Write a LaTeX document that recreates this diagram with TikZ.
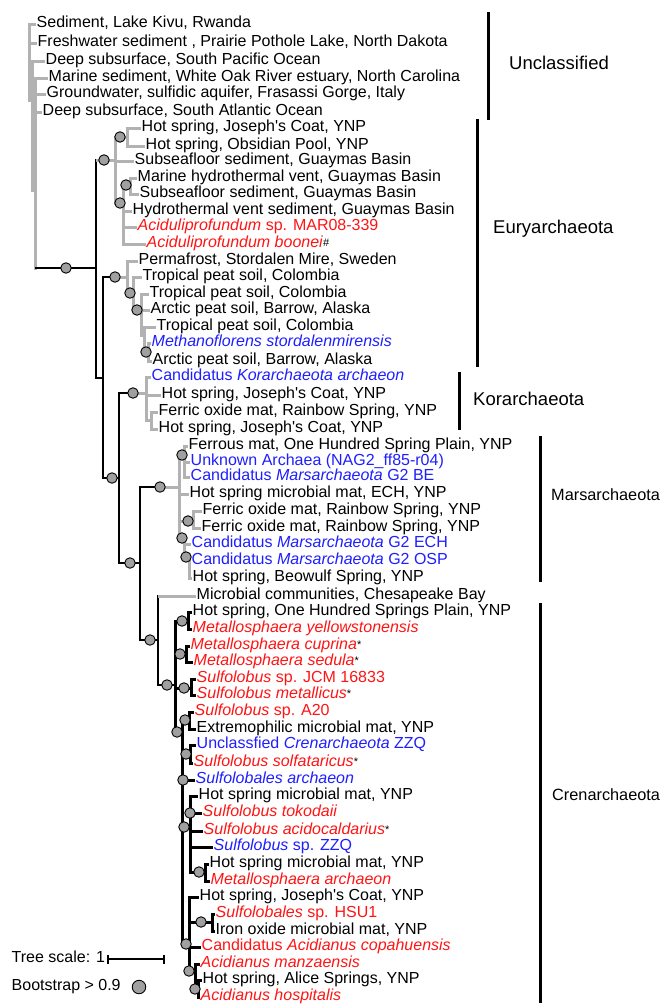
\documentclass[tikz,border=0pt]{standalone}
\usepackage{fontspec}
\setmainfont{Liberation Sans}
\definecolor{trgray}{RGB}{178,178,178}
\definecolor{bsfill}{RGB}{160,160,160}
\definecolor{rd}{RGB}{255,20,20}
\definecolor{bl}{RGB}{30,30,255}
\newcommand\ap{\textquotesingle}
\newcommand\sx[1]{{\color{black}\raisebox{1.5pt}{\fontsize{11}{11}\selectfont #1}}}
\newcommand\leafnode[4]{\node[lf] (#1) at (#2,#3) {#4};}
\begin{document}
\begin{tikzpicture}[x=1pt,y=-1pt,
 lf/.style={anchor=west,inner xsep=0.5pt,inner ysep=0pt,text height=0.9em,text depth=0.184em,font=\fontsize{16}{16}\selectfont},
 gr/.style={draw=trgray,line width=3pt},
 bk/.style={draw=black,line width=2.5pt},
 ck/.style={draw=black,line width=3pt},
 vt/.style={line cap=rect},
 bs/.style={circle,draw=black,line width=0.9pt,fill=bsfill,minimum size=10.5pt,inner sep=0pt},
 grpA/.style={anchor=west,inner sep=0pt,text height=0.9em,text depth=0.184em,font=\fontsize{18.5}{18.5}\selectfont},
 grpB/.style={anchor=west,inner sep=0pt,text height=0.9em,text depth=0.184em,font=\fontsize{16.3}{16.3}\selectfont},
 bar/.style={draw=black,line width=3pt}]
\useasboundingbox (0,0) rectangle (663,1007);
% ---------- leaves ----------
\leafnode{l1}{36}{24}{Sediment, Lake Kivu, Rwanda}
\leafnode{l2}{37}{43}{Freshwater sediment , Prairie Pothole Lake, North Dakota}
\leafnode{l3}{45}{61}{Deep subsurface, South Pacific Ocean}
\leafnode{l4}{48}{78}{Marine sediment, White Oak River estuary, North Carolina}
\leafnode{l5}{46}{94}{Groundwater, sulfidic aquifer, Frasassi Gorge, Italy}
\leafnode{l6}{42}{112}{Deep subsurface, South Atlantic Ocean}
\leafnode{l7}{141}{128}{Hot spring, Joseph\ap s Coat, YNP}
\leafnode{l8}{145}{146}{Hot spring, Obsidian Pool, YNP}
\leafnode{l9}{134}{161}{Subseafloor sediment, Guaymas Basin}
\leafnode{l10}{137}{178}{Marine hydrothermal vent, Guaymas Basin}
\leafnode{l11}{139}{194}{Subseafloor sediment, Guaymas Basin}
\leafnode{l12}{132}{211}{Hydrothermal vent sediment, Guaymas Basin}
\leafnode{l13}{137}{227}{\color{rd}\textit{Aciduliprofundum} sp. MAR08-339}
\leafnode{l14}{146}{244}{\color{rd}\textit{Aciduliprofundum boonei}\sx{\#}}
\leafnode{l15}{138}{261}{Permafrost, Stordalen Mire, Sweden}
\leafnode{l16}{142}{277}{Tropical peat soil, Colombia}
\leafnode{l17}{149}{294}{Tropical peat soil, Colombia}
\leafnode{l18}{150}{310}{Arctic peat soil, Barrow, Alaska}
\leafnode{l19}{156}{327}{Tropical peat soil, Colombia}
\leafnode{l20}{151}{343}{\color{bl}\textit{Methanoflorens stordalenmirensis}}
\leafnode{l21}{152}{361}{Arctic peat soil, Barrow, Alaska}
\leafnode{l22}{151}{377}{\color{bl}Candidatus \textit{Korarchaeota archaeon}}
\leafnode{l23}{161}{395}{Hot spring, Joseph\ap s Coat, YNP}
\leafnode{l24}{158}{412}{Ferric oxide mat, Rainbow Spring, YNP}
\leafnode{l25}{158}{429}{Hot spring, Joseph\ap s Coat, YNP}
\leafnode{l26}{188}{446}{Ferrous mat, One Hundred Spring Plain, YNP}
\leafnode{l27}{190}{462}{\color{bl}Unknown Archaea (NAG2\_ff85-r04)}
\leafnode{l28}{190}{477}{\color{bl}Candidatus \textit{Marsarchaeota} G2 BE}
\leafnode{l29}{189}{494}{Hot spring microbial mat, ECH, YNP}
\leafnode{l30}{202}{511}{Ferric oxide mat, Rainbow Spring, YNP}
\leafnode{l31}{201}{528}{Ferric oxide mat, Rainbow Spring, YNP}
\leafnode{l32}{191}{544}{\color{bl}Candidatus \textit{Marsarchaeota} G2 ECH}
\leafnode{l33}{191}{561}{\color{bl}Candidatus \textit{Marsarchaeota} G2 OSP}
\leafnode{l34}{192}{578}{Hot spring, Beowulf Spring, YNP}
\leafnode{l35}{196}{596}{Microbial communities, Chesapeake Bay}
\leafnode{l36}{192}{612}{Hot spring, One Hundred Springs Plain, YNP}
\leafnode{l37}{192}{629}{\color{rd}\textit{Metallosphaera yellowstonensis}}
\leafnode{l38}{190}{646}{\color{rd}\textit{Metallosphaera cuprina}\sx{*}}
\leafnode{l39}{193}{662}{\color{rd}\textit{Metallosphaera sedula}\sx{*}}
\leafnode{l40}{196}{679}{\color{rd}\textit{Sulfolobus} sp. JCM 16833}
\leafnode{l41}{196}{695}{\color{rd}\textit{Sulfolobus metallicus}\sx{*}}
\leafnode{l42}{194}{712}{\color{rd}\textit{Sulfolobus} sp. A20}
\leafnode{l43}{196}{729}{Extremophilic microbial mat, YNP}
\leafnode{l44}{196}{745}{\color{bl}Unclassfied \textit{Crenarchaeota} ZZQ}
\leafnode{l45}{193}{763}{\color{rd}\textit{Sulfolobus solfataricus}\sx{*}}
\leafnode{l46}{195}{780}{\color{bl}\textit{Sulfolobales archaeon}}
\leafnode{l47}{198}{796}{Hot spring microbial mat, YNP}
\leafnode{l48}{202}{813}{\color{rd}\textit{Sulfolobus tokodaii}}
\leafnode{l49}{203}{831}{\color{rd}\textit{Sulfolobus acidocaldarius}\sx{*}}
\leafnode{l50}{213}{847}{\color{bl}\textit{Sulfolobus} sp. ZZQ}
\leafnode{l51}{209}{864}{Hot spring microbial mat, YNP}
\leafnode{l52}{210}{881}{\color{rd}\textit{Metallosphaera archaeon}}
\leafnode{l53}{199}{897}{Hot spring, Joseph\ap s Coat, YNP}
\leafnode{l54}{215}{914}{\color{rd}\textit{Sulfolobales} sp. HSU1}
\leafnode{l55}{215}{931}{Iron oxide microbial mat, YNP}
\leafnode{l56}{201}{947}{\color{rd}Candidatus \textit{Acidianus copahuensis}}
\leafnode{l57}{200}{964}{\color{rd}\textit{Acidianus manzaensis}}
\leafnode{l58}{202}{980}{Hot spring, Alice Springs, YNP}
\leafnode{l59}{200}{997}{\color{rd}\textit{Acidianus hospitalis}}
% ---------- unclassified (gray) ----------
\draw[gr,vt] (29,24)--(29,100);
\draw[gr,vt] (32,61)--(32,190);
\draw[gr,vt] (35,78)--(35,268);
\draw[gr] (29,24)--(l1.west);
\draw[gr] (29,43)--(l2.west);
\draw[gr] (32,61)--(l3.west);
\draw[gr] (32,112)--(l6.west);
\draw[gr] (35,78)--(l4.west);
\draw[gr] (35,94)--(l5.west);
% ---------- backbone ----------
\draw[bk] (35,268)--(96,268);
\draw[bk,vt] (96,160)--(96,378);
\draw[bk] (96,378)--(103,378);
\draw[bk,vt] (103,277)--(103,478);
\draw[bk] (103,478)--(119,478);
\draw[bk,vt] (119,393)--(119,563);
\draw[bk] (119,563)--(140,563);
\draw[bk,vt] (140,487)--(140,640);
\draw[bk] (140,640)--(158,640);
\draw[bk,vt] (158,596)--(158,685);
\draw[bk] (158,685)--(175,685);
% ---------- Euryarchaeota group A ----------
\draw[gr] (96,160)--(115,160);
\draw[gr,vt] (115,137)--(115,203);
\draw[gr] (115,137)--(127,137);
\draw[gr,vt] (127,128)--(127,146);
\draw[gr] (127,128)--(l7.west);
\draw[gr] (127,146)--(l8.west);
\draw[gr] (115,161)--(l9.west);
\draw[gr] (115,203)--(123,203);
\draw[gr,vt] (123,185)--(123,244);
\draw[gr] (123,185)--(130,185);
\draw[gr,vt] (130,178)--(130,194);
\draw[gr] (130,178)--(l10.west);
\draw[gr] (130,194)--(l11.west);
\draw[gr] (123,211)--(l12.west);
\draw[gr] (123,227)--(l13.west);
\draw[gr] (123,244)--(l14.west);
% ---------- Euryarchaeota group B ----------
\draw[bk] (103,277)--(115,277);
\draw[gr] (115,277)--(127,277);
\draw[gr,vt] (127,261)--(127,293);
\draw[gr] (127,261)--(l15.west);
\draw[gr] (127,293)--(133,293);
\draw[gr,vt] (133,277)--(133,310);
\draw[gr] (133,277)--(l16.west);
\draw[gr] (133,310)--(141,310);
\draw[gr,vt] (141,294)--(141,335);
\draw[gr] (141,294)--(l17.west);
\draw[gr] (141,310)--(l18.west);
\draw[gr] (141,335)--(144,335);
\draw[gr,vt] (144,327)--(144,352);
\draw[gr] (144,327)--(l19.west);
\draw[gr] (144,352)--(148,352);
\draw[gr,vt] (148,343)--(148,361);
\draw[gr] (148,343)--(l20.west);
\draw[gr] (148,361)--(l21.west);
% ---------- Korarchaeota ----------
\draw[bk] (119,393)--(133,393);
\draw[gr] (133,393)--(146,393);
\draw[gr,vt] (146,377)--(146,420);
\draw[gr] (146,377)--(l22.west);
\draw[gr] (146,395)--(l23.west);
\draw[gr] (146,420)--(151,420);
\draw[gr,vt] (151,412)--(151,429);
\draw[gr] (151,412)--(l24.west);
\draw[gr] (151,429)--(l25.west);
% ---------- Marsarchaeota ----------
\draw[bk] (140,487)--(160,487);
\draw[gr] (160,487)--(179,487);
\draw[gr,vt] (179,455)--(179,538);
\draw[gr] (179,455)--(184,455);
\draw[gr,vt] (184,446)--(184,477);
\draw[gr] (184,446)--(l26.west);
\draw[gr] (184,462)--(l27.west);
\draw[gr] (184,477)--(l28.west);
\draw[gr] (179,494)--(l29.west);
\draw[gr] (179,521)--(193,521);
\draw[gr,vt] (193,511)--(193,528);
\draw[gr] (193,511)--(l30.west);
\draw[gr] (193,528)--(l31.west);
\draw[gr] (179,538)--(184,538);
\draw[gr,vt] (184,538)--(184,557);
\draw[gr] (184,544)--(l32.west);
\draw[gr] (184,557)--(189,557);
\draw[gr,vt] (189,557)--(189,578);
\draw[gr] (189,561)--(l33.west);
\draw[gr] (189,578)--(l34.west);
% ---------- Chesapeake ----------
\draw[gr] (158,596)--(l35.west);
% ---------- Crenarchaeota ----------
\draw[ck,vt] (175,621)--(175,732);
\draw[ck] (175,621)--(188,621);
\draw[ck,vt] (188,612)--(188,629);
\draw[ck] (188,612)--(l36.west);
\draw[ck] (188,629)--(l37.west);
\draw[ck] (175,654)--(186,654);
\draw[ck,vt] (186,646)--(186,662);
\draw[ck] (186,646)--(l38.west);
\draw[ck] (186,662)--(l39.west);
\draw[ck] (175,688)--(191,688);
\draw[ck,vt] (191,679)--(191,695);
\draw[ck] (191,679)--(l40.west);
\draw[ck] (191,695)--(l41.west);
\draw[ck] (175,732)--(182,732);
\draw[ck,vt] (182,720)--(182,944);
\draw[ck] (182,720)--(189,720);
\draw[ck,vt] (189,712)--(189,729);
\draw[ck] (189,712)--(l42.west);
\draw[ck] (189,729)--(l43.west);
\draw[ck] (182,754)--(190,754);
\draw[ck,vt] (190,745)--(190,763);
\draw[ck] (190,745)--(l44.west);
\draw[ck] (190,763)--(l45.west);
\draw[ck] (182,780)--(l46.west);
\draw[ck] (182,827)--(190,827);
\draw[ck,vt] (190,796)--(190,872);
\draw[ck] (190,796)--(l47.west);
\draw[ck] (190,813)--(l48.west);
\draw[ck] (190,831)--(l49.west);
\draw[ck] (190,847)--(l50.west);
\draw[ck] (190,872)--(205,872);
\draw[ck,vt] (205,864)--(205,881);
\draw[ck] (205,864)--(l51.west);
\draw[ck] (205,881)--(l52.west);
\draw[ck] (182,944)--(189,944);
\draw[ck,vt] (189,897)--(189,971);
\draw[ck] (189,897)--(l53.west);
\draw[ck] (189,922)--(212,922);
\draw[ck,vt] (212,914)--(212,931);
\draw[ck] (212,914)--(l54.west);
\draw[ck] (212,931)--(l55.west);
\draw[ck] (189,947)--(l56.west);
\draw[ck] (189,971)--(195,971);
\draw[ck,vt] (195,964)--(195,989);
\draw[ck] (195,964)--(l57.west);
\draw[ck] (195,989)--(198,989);
\draw[ck,vt] (198,980)--(198,997);
\draw[ck] (198,980)--(l58.west);
\draw[ck] (198,997)--(l59.west);
% ---------- bootstrap circles ----------
\foreach \cx/\cy [count=\k] in {66/268,104/160,120/137,120/203,126/185,115/277,130/293,137/310,146/352,
  112/478,133/393,130/563,160/487,150/640,182/455,188/521,182/538,186/557,167/685,
  182/621,180/654,184/688,177/732,185/720,186/754,183/780,184/827,190/813,199/872,
  186/944,201/922,189/971,195/989}
  \node[bs] (bs\k) at (\cx,\cy) {};
% ---------- group bars and labels ----------
\draw[bar] (488,12)--(488,120);
\node[grpA] (gU) at (509,66) {Unclassified};
\draw[bar] (477,119)--(477,367);
\node[grpA] (gE) at (493,230) {Euryarchaeota};
\draw[bar] (459,372)--(459,430);
\node[grpA] (gK) at (473,402) {Korarchaeota};
\draw[bar] (540,436)--(540,582);
\node[grpB] (gM) at (551,497) {Marsarchaeota};
\draw[bar] (540,603)--(540,1003);
\node[grpB] (gC) at (552,797) {Crenarchaeota};
% ---------- legend ----------
\node[lf] (ts) at (11,959) {Tree scale: 1};
\coordinate (sb1) at (108,959);
\coordinate (sb2) at (164,959);
\draw[line width=1.5pt] (sb1)--(sb2);
\draw[line width=1.5pt] ([yshift=-4.5pt]sb1)--([yshift=4.5pt]sb1);
\draw[line width=1.5pt] ([yshift=-4.5pt]sb2)--([yshift=4.5pt]sb2);
\node[lf] (bt) at (11,987) {Bootstrap > 0.9};
\node[bs,minimum size=13.5pt] (bsl) at (139,987) {};
\end{tikzpicture}
\end{document}
